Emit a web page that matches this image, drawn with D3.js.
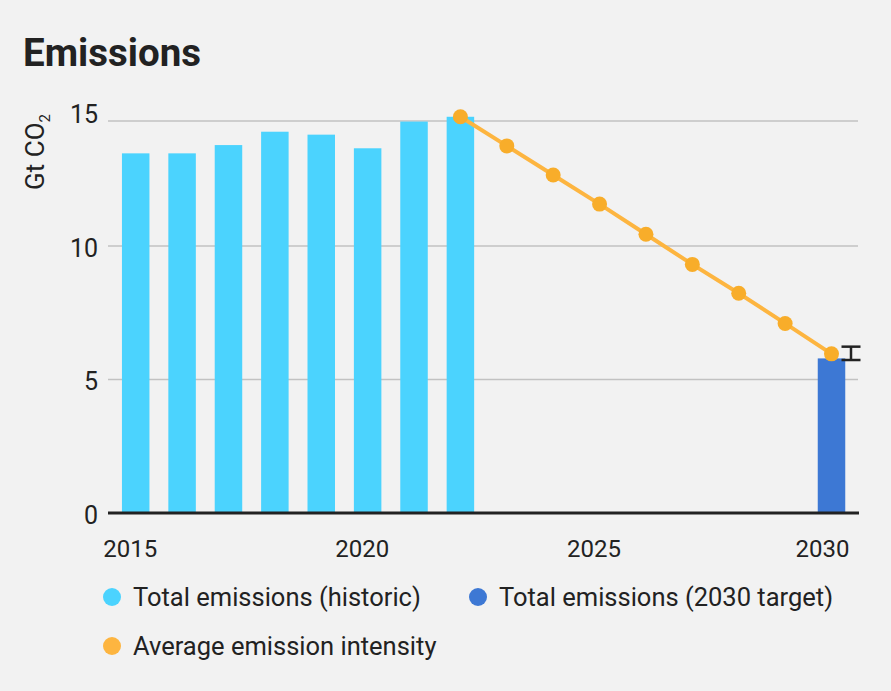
<!DOCTYPE html>
<html>
<head>
<meta charset="utf-8">
<script src="https://cdn.jsdelivr.net/npm/d3@7/dist/d3.min.js"></script>
<style>
  html, body { margin: 0; padding: 0; background: #f2f2f2; }
  svg { display: block; font-family: Roboto, "Noto Sans", sans-serif; }
</style>
</head>
<body>
<svg id="chart" width="891" height="691"></svg>
<script>
// ---- data ----
const histYears = [2015, 2016, 2017, 2018, 2019, 2020, 2021, 2022];
const histEmissions = [13.47, 13.47, 13.78, 14.28, 14.17, 13.66, 14.66, 14.84];
const targetYears = [2030];
const targetEmissions = [5.79];
const targetErrLow = [5.73];
const targetErrHigh = [6.23];
const intensityYears = [2022, 2023, 2024, 2025, 2026, 2027, 2028, 2029, 2030];
const intensityValues = [14.84, 13.75, 12.66, 11.57, 10.44, 9.31, 8.23, 7.10, 5.96];
const yTicks = [0, 5, 10, 15];
const xTicks = [2015, 2020, 2025, 2030];
const legendLabels = ["Total emissions (historic)", "Total emissions (2030 target)", "Average emission intensity"];

const colHist = "#4bd3fe";
const colTarget = "#3d78d4";
const colLine = "#fdb540";
const colDot = "#f8ad2a";
const colText = "#222222";

const svg = d3.select("#chart");
svg.append("rect").attr("width", 891).attr("height", 691).attr("fill", "#f2f2f2");

const plotLeft = 108, plotRight = 859, plotTop = 121, plotBottom = 513;

const x = d3.scaleLinear().domain([2015, 2030]).range([135.7, 831.5]);
const y = d3.scaleLinear().domain([0, 15]).range([plotBottom, plotBottom - 15 * 26.7]);
const barW = 27.5;

// title
svg.append("text").attr("x", 23).attr("y", 66)
  .attr("font-size", 38.5).attr("font-weight", 700).attr("fill", colText)
  .text("Emissions");

// y axis title
const yt = svg.append("text")
  .attr("transform", "translate(44,152) rotate(-90)")
  .attr("text-anchor", "middle").attr("font-size", 26).attr("fill", colText);
yt.append("tspan").text("Gt CO");
yt.append("tspan").attr("font-size", 15).attr("dy", 6).text("2");

// gridlines (top one held at plot top)
const gy = t => Math.max(y(t), plotTop);
svg.append("g").selectAll("line").data(yTicks.filter(t => t > 0)).join("line")
  .attr("x1", plotLeft).attr("x2", plotRight - 1)
  .attr("y1", d => gy(d)).attr("y2", d => gy(d))
  .attr("stroke", "#c2c2c2").attr("stroke-width", 1.5);

// y axis labels via d3 axis
const yAxis = svg.append("g").attr("transform", `translate(${plotLeft},0)`)
  .call(d3.axisLeft(y).tickValues(yTicks).tickSize(0).tickPadding(10).tickFormat(d3.format("d")));
yAxis.select(".domain").remove();
yAxis.selectAll("text").attr("font-size", 25).attr("fill", colText)
  .attr("font-family", "Roboto, sans-serif").attr("dy", "0.32em")
  .attr("transform", "translate(0,2)");

// historic bars
svg.append("g").selectAll("rect").data(histYears).join("rect")
  .attr("x", d => x(d) - barW / 2).attr("width", barW)
  .attr("y", (d, i) => y(histEmissions[i]))
  .attr("height", (d, i) => y(0) - y(histEmissions[i]))
  .attr("fill", colHist);

// target bar
svg.append("g").selectAll("rect").data(targetYears).join("rect")
  .attr("x", d => x(d) - barW / 2).attr("width", barW)
  .attr("y", (d, i) => y(targetEmissions[i]))
  .attr("height", (d, i) => y(0) - y(targetEmissions[i]))
  .attr("fill", colTarget);

// error bar (offset right of target bar)
const eg = svg.append("g").attr("stroke", colText).attr("stroke-width", 2.5);
targetYears.forEach((yr, i) => {
  const ex = x(yr) + 19.5;
  eg.append("line").attr("x1", ex).attr("x2", ex).attr("y1", y(targetErrHigh[i])).attr("y2", y(targetErrLow[i]));
  eg.append("line").attr("x1", ex - 9.5).attr("x2", ex + 9.5).attr("y1", y(targetErrHigh[i])).attr("y2", y(targetErrHigh[i]));
  eg.append("line").attr("x1", ex - 9.5).attr("x2", ex + 9.5).attr("y1", y(targetErrLow[i])).attr("y2", y(targetErrLow[i]));
});

// baseline
svg.append("line").attr("x1", plotLeft).attr("x2", plotRight)
  .attr("y1", y(0)).attr("y2", y(0)).attr("stroke", colText).attr("stroke-width", 3);

// intensity line
const line = d3.line().x((d, i) => x(intensityYears[i])).y(d => y(d));
svg.append("path").datum(intensityValues).attr("d", line)
  .attr("fill", "none").attr("stroke", colLine).attr("stroke-width", 4);
svg.append("g").selectAll("circle").data(intensityValues).join("circle")
  .attr("cx", (d, i) => x(intensityYears[i])).attr("cy", d => y(d))
  .attr("r", 7.5).attr("fill", colDot);

// x axis
const xAxis = svg.append("g").attr("transform", `translate(0,${plotBottom})`)
  .call(d3.axisBottom(x).tickValues(xTicks).tickSize(0).tickPadding(27).tickFormat(d3.format("d")));
xAxis.select(".domain").remove();
xAxis.selectAll("text").attr("font-size", 24).attr("fill", colText)
  .attr("font-family", "Roboto, sans-serif")
  .attr("dx", function(d) {
    // keep labels inside the plot's right edge
    const w = this.getComputedTextLength();
    const over = x(d) - 6 + w / 2 - (plotRight - 10);
    return over > 0 ? -6 - over : -6;
  });

// legend
const legend = [
  { label: legendLabels[0], color: colHist, cx: 112, cy: 597 },
  { label: legendLabels[1], color: colTarget, cx: 478, cy: 597 },
  { label: legendLabels[2], color: colLine, cx: 112, cy: 646 }
];
const lg = svg.append("g").selectAll("g").data(legend).join("g");
lg.append("circle").attr("cx", d => d.cx).attr("cy", d => d.cy).attr("r", 9).attr("fill", d => d.color);
lg.append("text").attr("x", d => d.cx + 21).attr("y", d => d.cy + 9)
  .attr("font-size", 25.5).attr("fill", colText).text(d => d.label);
</script>
</body>
</html>
